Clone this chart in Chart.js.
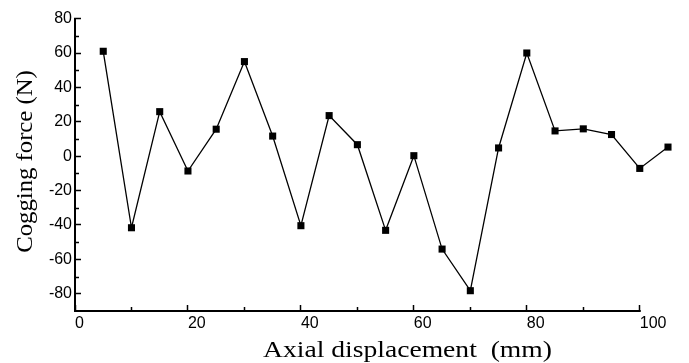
<!DOCTYPE html>
<html>
<head>
<meta charset="utf-8">
<script src="https://cdn.jsdelivr.net/npm/chart.js@4.4.1/dist/chart.umd.min.js"></script>
<style>
  html, body { margin: 0; padding: 0; background: #fff; }
  #wrap { width: 689px; height: 363px; }
</style>
</head>
<body>
<div id="wrap"><canvas id="cog" width="689" height="363"></canvas></div>
<script>
// axial displacement (mm) and measured cogging force (N)
const displacement = [5, 10, 15, 20, 25, 30, 35, 40, 45, 50, 55, 60, 65, 70, 75, 80, 85, 90, 95, 100, 105];
const force = [61, -41.6, 25.9, -8.6, 15.7, 55, 11.7, -40.4, 23.6, 6.7, -43.1, 0.3, -54, -78.2, 4.8, 60, 14.7, 15.9, 12.6, -7.1, 5.3];

const xTicks = [0, 20, 40, 60, 80, 100];
const xMinor = [10, 30, 50, 70, 90];
const yTicks = [-80, -60, -40, -20, 0, 20, 40, 60, 80];
const yMinor = [-70, -50, -30, -10, 10, 30, 50, 70];

const xTitle = 'Axial displacement  (mm)';
const yTitle = 'Cogging force (N)';

// minor ticks, bottom axis line and the two serif axis titles
const axisExtras = {
  id: 'axisExtras',
  afterDraw(chart) {
    const ctx = chart.ctx;
    const xs = chart.scales.x, ys = chart.scales.y;
    const bottom = chart.chartArea.bottom;
    const left = chart.chartArea.left;
    ctx.save();
    ctx.strokeStyle = '#000';

    ctx.lineWidth = 2;
    ctx.beginPath();
    ctx.moveTo(left - 1, bottom);
    ctx.lineTo(xs.getPixelForValue(100) + 1, bottom);
    ctx.stroke();

    ctx.lineWidth = 1.5;
    ctx.beginPath();
    xMinor.forEach(v => {
      const px = Math.round(xs.getPixelForValue(v)) + 0.5;
      ctx.moveTo(px, bottom);
      ctx.lineTo(px, bottom - 4);
    });
    yMinor.forEach(v => {
      const py = Math.round(ys.getPixelForValue(v)) + 0.5;
      ctx.moveTo(left, py);
      ctx.lineTo(left + 4, py);
    });
    ctx.stroke();

    ctx.fillStyle = '#000';
    ctx.font = '24px "Liberation Serif", "Times New Roman", serif';
    ctx.textBaseline = 'alphabetic';

    ctx.save();
    ctx.translate(263, 357);
    ctx.scale(1.15, 1);
    ctx.textAlign = 'left';
    ctx.fillText(xTitle, 0, 0);
    ctx.restore();

    ctx.save();
    ctx.translate(31.5, 161.5);
    ctx.rotate(-Math.PI / 2);
    ctx.scale(1.03, 1);
    ctx.textAlign = 'center';
    ctx.fillText(yTitle, 0, 0);
    ctx.restore();

    ctx.restore();
  }
};

const tickFont = { family: '"Liberation Sans", Arial, sans-serif', size: 16 };

new Chart(document.getElementById('cog'), {
  type: 'line',
  data: {
    datasets: [{
      data: displacement.map((x, i) => ({ x, y: force[i] })),
      borderColor: '#000',
      borderWidth: 1.3,
      backgroundColor: '#000',
      pointStyle: 'rect',
      pointRadius: 5,
      pointBorderWidth: 0,
      pointBackgroundColor: '#000',
      tension: 0,
      clip: false
    }]
  },
  options: {
    responsive: false,
    animation: false,
    devicePixelRatio: 1,
    layout: { padding: { top: 15, right: 21, bottom: 0, left: 0 } },
    plugins: { legend: { display: false }, tooltip: { enabled: false } },
    scales: {
      x: {
        type: 'linear',
        min: 0,
        max: 105,
        afterBuildTicks: s => { s.ticks = xTicks.map(v => ({ value: v })); },
        afterFit: s => { s.height = 52; },
        border: { display: false },
        grid: { drawOnChartArea: false, drawTicks: true, tickLength: -6, tickWidth: 1.5, tickColor: '#000' },
        ticks: { align: 'start', padding: 9, color: '#000', font: tickFont, maxRotation: 0 }
      },
      y: {
        min: -90,
        max: 80,
        afterBuildTicks: s => { s.ticks = yTicks.map(v => ({ value: v })); },
        afterFit: s => { s.width = 75; },
        border: { display: true, color: '#000', width: 2 },
        grid: { drawOnChartArea: false, drawTicks: true, tickLength: -6, tickWidth: 1.5, tickColor: '#000' },
        ticks: { padding: 9, color: '#000', font: tickFont }
      }
    }
  },
  plugins: [axisExtras]
});
</script>
</body>
</html>
